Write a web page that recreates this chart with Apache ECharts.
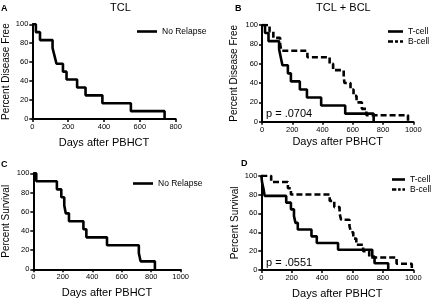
<!DOCTYPE html>
<html>
<head>
<meta charset="utf-8">
<script src="https://cdn.jsdelivr.net/npm/echarts@6/dist/echarts.min.js"></script>
<style>
html, body { margin: 0; padding: 0; background: #fff; }
#chart { width: 432px; height: 300px; }
</style>
</head>
<body>
<div id="chart"></div>
<script>
// A: TCL, no relapse (disease free) -- also T-cell curve in B
var tclDfsDays = [0, 20, 43, 113, 124, 135, 171, 191, 250, 297, 391, 550, 738];
var tclDfsPct  = [100, 91.7, 83.3, 75, 66.7, 58.3, 50, 41.7, 33.3, 25, 16.7, 8.3, 0];

// B: B-cell disease free
var bclDfsDays = [0, 50, 75, 120, 128, 300, 447, 470, 540, 545, 585, 605, 625, 660, 690, 965];
var bclDfsPct  = [100, 93.3, 86.7, 80, 73.3, 66.7, 60, 53.3, 46.7, 40, 33.3, 26.7, 20, 13.3, 6.7, 0];

// C: TCL survival, no relapse
var tclOsDays = [0, 20, 160, 190, 210, 220, 242, 340, 360, 500, 716, 728, 825];
var tclOsPct  = [100, 91.7, 83.3, 75, 66.7, 58.3, 50, 41.7, 33.3, 25, 16.7, 8.3, 0];

// D: survival, T-cell vs B-cell
var tOsDays = [0, 5, 15, 22, 164, 195, 215, 225, 240, 330, 365, 505, 730, 745, 835];
var tOsPct  = [100, 92.9, 85.7, 78.6, 71.4, 64.3, 57.1, 50, 42.9, 35.7, 28.6, 21.4, 14.3, 7.1, 0];
var bOsDays = [0, 65, 175, 195, 450, 480, 515, 525, 580, 590, 605, 625, 670, 710, 890, 990];
var bOsPct  = [100, 93.3, 86.7, 80, 73.3, 66.7, 60, 53.3, 46.7, 40, 33.3, 26.7, 20, 13.3, 6.7, 0];

var xMax = [800, 1000, 1000, 1000];
var yTitles = ['Percent Disease Free', 'Percent Disease Free', 'Percent Survival', 'Percent Survival'];
var xTitle = 'Days after PBHCT';

var FONT = 'Liberation Sans, Arial, sans-serif';
var SOLID_ICON = 'path://M0,0H15V1H0Z';
var DASH_ICON = 'path://M0,0H5V1H0ZM7,0H10V1H7ZM12,0H15V1H12Z';

function pts(days, pct) {
    return days.map(function (d, i) { return [d, pct[i]]; });
}

var chart = echarts.init(document.getElementById('chart'));

var grids = [
    { left: 32.3, right: 256.3, top: 24.3, bottom: 181 },
    { left: 262, right: 18.7, top: 25, bottom: 178.3 },
    { left: 33.3, right: 251.3, top: 173.3, bottom: 30.7 },
    { left: 261.3, right: 18.7, top: 175.7, bottom: 30 }
];
var yGaps = [21, 23, 22, 21];
var xGaps = [18, 15, 18, 18];

var axisLine = { show: true, lineStyle: { color: '#000', width: 2 } };
var axisTick = { show: true, length: 3, lineStyle: { color: '#000', width: 1.5 } };
var axisLabel = {
    color: '#000', fontSize: 7.5, fontFamily: FONT, margin: 4,
    formatter: function (v) { return String(v); }
};

var xAxes = [], yAxes = [];
for (var i = 0; i < 4; i++) {
    xAxes.push({
        gridIndex: i, type: 'value', min: 0, max: xMax[i], interval: 200,
        name: xTitle, nameLocation: 'middle', nameGap: xGaps[i],
        nameTextStyle: { color: '#000', fontSize: 11, fontFamily: FONT },
        axisLine: axisLine, axisTick: axisTick, axisLabel: axisLabel,
        splitLine: { show: false }
    });
    yAxes.push({
        gridIndex: i, type: 'value', min: 0, max: 100, interval: 20,
        name: yTitles[i], nameLocation: 'middle', nameGap: yGaps[i],
        nameTextStyle: { color: '#000', fontSize: 10, fontFamily: FONT },
        axisLine: axisLine, axisTick: axisTick, axisLabel: axisLabel,
        splitLine: { show: false }
    });
}

function km(name, idx, data, dashed) {
    return {
        name: name, type: 'line', step: 'end',
        xAxisIndex: idx, yAxisIndex: idx,
        data: data, symbol: 'none', animation: false,
        lineStyle: { color: '#000', width: 2.6, type: dashed ? [6, 3] : 'solid' },
        itemStyle: { color: '#000' }
    };
}

function txt(text, left, top, size, bold) {
    return {
        text: text, left: left, top: top, padding: 0,
        textStyle: { color: '#000', fontSize: size, fontFamily: FONT, fontWeight: bold ? 'bold' : 'normal' }
    };
}

var legendText = { color: '#000', fontSize: 8.5, fontFamily: FONT };
function legend(names, icons, left, top, w) {
    return {
        data: names.map(function (n, k) { return { name: n, icon: icons[k] }; }),
        orient: 'vertical', left: left, top: top, padding: 0,
        itemWidth: w, itemHeight: 2.6, itemGap: 1, symbolKeepAspect: false,
        textStyle: legendText, selectedMode: false
    };
}

option = {
    backgroundColor: '#fff',
    title: [
        txt('A', 1, 4, 9, true),
        txt('B', 235, 4, 9, true),
        txt('C', 1, 160, 9, true),
        txt('D', 241, 159, 9, true),
        txt('TCL', 110, 2, 11),
        txt('TCL + BCL', 316, 2, 11),
        txt('p = .0704', 266, 108, 11),
        txt('p = .0551', 266, 257, 11)
    ],
    legend: [
        legend(['No Relapse'], [SOLID_ICON], 137, 27, 20),
        legend(['T-cell', 'B-cell'], [SOLID_ICON, DASH_ICON], 388, 27, 15),
        legend(['No Relapse'], [SOLID_ICON], 133, 179, 20),
        legend(['T-cell', 'B-cell'], [SOLID_ICON, DASH_ICON], 392, 175, 13)
    ],
    grid: grids,
    xAxis: xAxes,
    yAxis: yAxes,
    series: [
        km('No Relapse', 0, pts(tclDfsDays, tclDfsPct)),
        km('T-cell', 1, pts(tclDfsDays, tclDfsPct)),
        km('B-cell', 1, pts(bclDfsDays, bclDfsPct), true),
        km('No Relapse', 2, pts(tclOsDays, tclOsPct)),
        km('T-cell', 3, pts(tOsDays, tOsPct)),
        km('B-cell', 3, pts(bOsDays, bOsPct), true)
    ]
};

chart.setOption(option);
</script>
</body>
</html>
